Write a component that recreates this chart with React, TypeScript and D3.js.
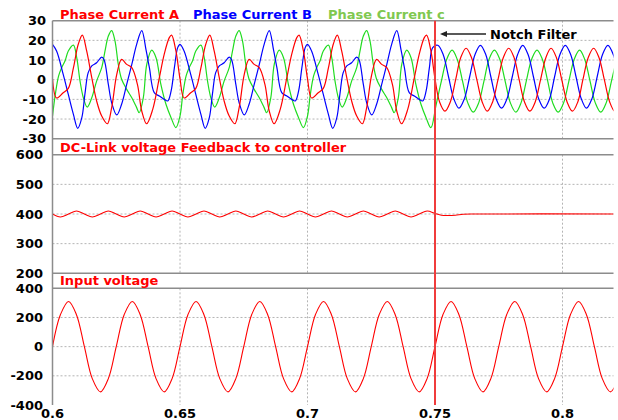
import React from 'react';
import * as d3 from 'd3';

// ---------- DATA ----------
const xTicks = [0.6, 0.65, 0.7, 0.75, 0.8];
const xTickLabels = ['0.6', '0.65', '0.7', '0.75', '0.8'];
const currentTicks = [30, 20, 10, 0, -10, -20, -30];
const dcTicks = [600, 500, 400, 300, 200];
const vinTicks = [400, 200, 0, -200, -400];
const notchTime = 0.75;

const phaseA: [number, number][] = [
  [0.6000, 0.5], [0.6016, -9.3], [0.6042, -6.6], [0.6062, -4.4], [0.6082, 6], [0.6101, 18], [0.6117, 22.7], [0.6134, 14.6], [0.6154, 1], [0.6173, -10.8], [0.6193, -18.5], [0.6215, -22.4], [0.6232, -14.2], [0.6252, 2.7], [0.6271, 10.3], [0.6291, 7.8], [0.6311, 6.1], [0.6333, -2.4], [0.6350, -15.9], [0.6369, -22.4], [0.6393, -15.1], [0.6419, 1], [0.6438, 12.9], [0.6458, 21.4], [0.6467, 22.7], [0.6484, 14.6],
  [0.6500, 0.5], [0.6516, -9.3], [0.6542, -6.6], [0.6562, -4.4], [0.6582, 6], [0.6601, 18], [0.6617, 22.7], [0.6634, 14.6], [0.6654, 1], [0.6673, -10.8], [0.6693, -18.5], [0.6715, -22.4], [0.6732, -14.2], [0.6752, 2.7], [0.6771, 10.3], [0.6791, 7.8], [0.6811, 6.1], [0.6833, -2.4], [0.6850, -15.9], [0.6869, -22.4], [0.6893, -15.1], [0.6919, 1], [0.6938, 12.9], [0.6958, 21.4], [0.6967, 22.7], [0.6984, 14.6],
  [0.7000, 0.5], [0.7016, -9.3], [0.7042, -6.6], [0.7062, -4.4], [0.7082, 6], [0.7101, 18], [0.7117, 22.7], [0.7134, 14.6], [0.7154, 1], [0.7173, -10.8], [0.7193, -18.5], [0.7215, -22.4], [0.7232, -14.2], [0.7252, 2.7], [0.7271, 10.3], [0.7291, 7.8], [0.7311, 6.1], [0.7333, -2.4], [0.7350, -15.9], [0.7369, -22.4], [0.7393, -15.1], [0.7419, 1], [0.7438, 12.9], [0.7458, 21.4], [0.7467, 22.7], [0.7484, 14.6],
  [0.7500, 0.5], [0.7518, -11.3], [0.7539, -16], [0.7560, -11.3], [0.7581, 0], [0.7601, 11.3], [0.7622, 16], [0.7643, 11.3], [0.7664, 0], [0.7685, -11.3], [0.7705, -16], [0.7726, -11.3], [0.7747, 0], [0.7768, 11.3], [0.7789, 16], [0.7810, 11.3], [0.7830, 0], [0.7851, -11.3], [0.7872, -16], [0.7893, -11.3], [0.7914, 0], [0.7935, 11.3], [0.7955, 16], [0.7976, 11.3], [0.7997, 0], [0.8018, -11.3], [0.8039, -16], [0.8060, -11.3], [0.8080, 0], [0.8101, 11.3], [0.8122, 16], [0.8143, 11.3], [0.8164, 0], [0.8185, -11.3], [0.8205, -16], [0.8226, -11.3],
];

const phaseB: [number, number][] = [
  [0.6000, 18], [0.6016, 14.6], [0.6042, 2.7], [0.6062, -7.5], [0.6082, -17.6], [0.6099, -24.7], [0.6115, -19.3], [0.6127, -7.5], [0.6140, 3.6], [0.6154, 7], [0.6173, 8.6], [0.6193, 11.5], [0.6202, 10.3], [0.6219, -2.4], [0.6232, -11.7], [0.6252, -17.9], [0.6271, -12.5], [0.6291, -2.4], [0.6311, 7.8], [0.6330, 18], [0.6350, 25], [0.6367, 15], [0.6380, 6.1], [0.6399, -6.6], [0.6419, -8.3], [0.6438, -10], [0.6452, -10.8], [0.6465, -5.8], [0.6478, 6.1], [0.6491, 16.3],
  [0.6500, 18], [0.6516, 14.6], [0.6542, 2.7], [0.6562, -7.5], [0.6582, -17.6], [0.6599, -24.7], [0.6615, -19.3], [0.6627, -7.5], [0.6640, 3.6], [0.6654, 7], [0.6673, 8.6], [0.6693, 11.5], [0.6702, 10.3], [0.6719, -2.4], [0.6732, -11.7], [0.6752, -17.9], [0.6771, -12.5], [0.6791, -2.4], [0.6811, 7.8], [0.6830, 18], [0.6850, 25], [0.6867, 15], [0.6880, 6.1], [0.6899, -6.6], [0.6919, -8.3], [0.6938, -10], [0.6952, -10.8], [0.6965, -5.8], [0.6978, 6.1], [0.6991, 16.3],
  [0.7000, 18], [0.7016, 14.6], [0.7042, 2.7], [0.7062, -7.5], [0.7082, -17.6], [0.7099, -24.7], [0.7115, -19.3], [0.7127, -7.5], [0.7140, 3.6], [0.7154, 7], [0.7173, 8.6], [0.7193, 11.5], [0.7202, 10.3], [0.7219, -2.4], [0.7232, -11.7], [0.7252, -17.9], [0.7271, -12.5], [0.7291, -2.4], [0.7311, 7.8], [0.7330, 18], [0.7350, 25], [0.7367, 15], [0.7380, 6.1], [0.7399, -6.6], [0.7419, -8.3], [0.7438, -10], [0.7452, -10.8], [0.7465, -5.8], [0.7478, 6.1], [0.7491, 16.3],
  [0.7511, 17.5], [0.7532, 12.8], [0.7553, 1.5], [0.7574, -9.8], [0.7594, -14.5], [0.7615, -9.8], [0.7636, 1.5], [0.7657, 12.8], [0.7678, 17.5], [0.7699, 12.8], [0.7719, 1.5], [0.7740, -9.8], [0.7761, -14.5], [0.7782, -9.8], [0.7803, 1.5], [0.7824, 12.8], [0.7844, 17.5], [0.7865, 12.8], [0.7886, 1.5], [0.7907, -9.8], [0.7928, -14.5], [0.7949, -9.8], [0.7969, 1.5], [0.7990, 12.8], [0.8011, 17.5], [0.8032, 12.8], [0.8053, 1.5], [0.8074, -9.8], [0.8094, -14.5], [0.8115, -9.8], [0.8136, 1.5], [0.8157, 12.8], [0.8178, 17.5], [0.8199, 12.8], [0.8220, 1.5],
];

const phaseC: [number, number][] = [
  [0.6000, -18.5], [0.6011, -7.5], [0.6024, 1.9], [0.6036, 6.1], [0.6049, 9.5], [0.6062, 14.6], [0.6082, 17.6], [0.6095, 11.2], [0.6108, -0.7], [0.6121, -9.2], [0.6136, -13.9], [0.6154, -9.2], [0.6173, -0.7], [0.6193, 6.1], [0.6206, 14.6], [0.6219, 22.2], [0.6232, 25], [0.6245, 19.7], [0.6258, 7.8], [0.6271, 0.2], [0.6291, -4.9], [0.6311, -9.2], [0.6330, -14.2], [0.6340, -16.8], [0.6356, -9.2], [0.6370, 8], [0.6389, 15], [0.6406, 11.2], [0.6425, -2.4], [0.6445, -12.5], [0.6465, -19.3], [0.6484, -24.4],
  [0.6500, -18.5], [0.6511, -7.5], [0.6524, 1.9], [0.6536, 6.1], [0.6549, 9.5], [0.6562, 14.6], [0.6582, 17.6], [0.6595, 11.2], [0.6608, -0.7], [0.6621, -9.2], [0.6636, -13.9], [0.6654, -9.2], [0.6673, -0.7], [0.6693, 6.1], [0.6706, 14.6], [0.6719, 22.2], [0.6732, 25], [0.6745, 19.7], [0.6758, 7.8], [0.6771, 0.2], [0.6791, -4.9], [0.6811, -9.2], [0.6830, -14.2], [0.6840, -16.8], [0.6856, -9.2], [0.6870, 8], [0.6889, 15], [0.6906, 11.2], [0.6925, -2.4], [0.6945, -12.5], [0.6965, -19.3], [0.6984, -24.4],
  [0.7000, -18.5], [0.7011, -7.5], [0.7024, 1.9], [0.7036, 6.1], [0.7049, 9.5], [0.7062, 14.6], [0.7082, 17.6], [0.7095, 11.2], [0.7108, -0.7], [0.7121, -9.2], [0.7136, -13.9], [0.7154, -9.2], [0.7173, -0.7], [0.7193, 6.1], [0.7206, 14.6], [0.7219, 22.2], [0.7232, 25], [0.7245, 19.7], [0.7258, 7.8], [0.7271, 0.2], [0.7291, -4.9], [0.7311, -9.2], [0.7330, -14.2], [0.7340, -16.8], [0.7356, -9.2], [0.7370, 8], [0.7389, 15], [0.7406, 11.2], [0.7425, -2.4], [0.7445, -12.5], [0.7465, -19.3], [0.7484, -24.4],
  [0.7504, -13], [0.7525, -0.75], [0.7546, 10.4], [0.7567, 15], [0.7587, 10.4], [0.7608, -0.75], [0.7629, -11.9], [0.7650, -16.5], [0.7671, -11.9], [0.7692, -0.75], [0.7712, 10.4], [0.7733, 15], [0.7754, 10.4], [0.7775, -0.75], [0.7796, -11.9], [0.7817, -16.5], [0.7837, -11.9], [0.7858, -0.75], [0.7879, 10.4], [0.7900, 15], [0.7921, 10.4], [0.7942, -0.75], [0.7962, -11.9], [0.7983, -16.5], [0.8004, -11.9], [0.8025, -0.75], [0.8046, 10.4], [0.8067, 15], [0.8087, 10.4], [0.8108, -0.75], [0.8129, -11.9], [0.8150, -16.5], [0.8171, -11.9], [0.8192, -0.75], [0.8212, 10.4],
];

const dcLink: [number, number][] = [
  [0.6000, 400], [0.6031, 390], [0.6063, 400], [0.6094, 410], [0.6125, 400], [0.6156, 390], [0.6188, 400], [0.6219, 410],
  [0.6250, 400], [0.6281, 390], [0.6313, 400], [0.6344, 410], [0.6375, 400], [0.6406, 390], [0.6438, 400], [0.6469, 410],
  [0.6500, 400], [0.6531, 390], [0.6563, 400], [0.6594, 410], [0.6625, 400], [0.6656, 390], [0.6688, 400], [0.6719, 410],
  [0.6750, 400], [0.6781, 390], [0.6813, 400], [0.6844, 410], [0.6875, 400], [0.6906, 390], [0.6938, 400], [0.6969, 410],
  [0.7000, 400], [0.7031, 390], [0.7063, 400], [0.7094, 410], [0.7125, 400], [0.7156, 390], [0.7188, 400], [0.7219, 410],
  [0.7250, 400], [0.7281, 390], [0.7313, 400], [0.7344, 410], [0.7375, 400], [0.7406, 390], [0.7438, 400], [0.7469, 410],
  [0.7500, 402], [0.7525, 396], [0.7550, 395], [0.7580, 396], [0.7610, 399], [0.7650, 400], [0.8200, 400],
];

const inputVoltage: [number, number][] = [
  [0.6000, 0], [0.6031, 219], [0.6063, 310], [0.6094, 219], [0.6125, 0], [0.6156, -219], [0.6188, -310], [0.6219, -219],
  [0.6250, 0], [0.6281, 219], [0.6313, 310], [0.6344, 219], [0.6375, 0], [0.6406, -219], [0.6438, -310], [0.6469, -219],
  [0.6500, 0], [0.6531, 219], [0.6563, 310], [0.6594, 219], [0.6625, 0], [0.6656, -219], [0.6688, -310], [0.6719, -219],
  [0.6750, 0], [0.6781, 219], [0.6813, 310], [0.6844, 219], [0.6875, 0], [0.6906, -219], [0.6938, -310], [0.6969, -219],
  [0.7000, 0], [0.7031, 219], [0.7063, 310], [0.7094, 219], [0.7125, 0], [0.7156, -219], [0.7188, -310], [0.7219, -219],
  [0.7250, 0], [0.7281, 219], [0.7313, 310], [0.7344, 219], [0.7375, 0], [0.7406, -219], [0.7438, -310], [0.7469, -219],
  [0.7500, 0], [0.7531, 219], [0.7563, 310], [0.7594, 219], [0.7625, 0], [0.7656, -219], [0.7688, -310], [0.7719, -219],
  [0.7750, 0], [0.7781, 219], [0.7813, 310], [0.7844, 219], [0.7875, 0], [0.7906, -219], [0.7938, -310], [0.7969, -219],
  [0.8000, 0], [0.8031, 219], [0.8063, 310], [0.8094, 219], [0.8125, 0], [0.8156, -219], [0.8188, -310], [0.8219, -219],
];

// ---------- LAYOUT ----------
const W = 618;
const H = 420;
const X0 = 52.5;
const X1 = 613.5;
const FONT = '"DejaVu Sans", Verdana, sans-serif';
const RED = '#ff0000';
const BLUE = '#0000ff';
const GREEN = '#1fdc1f';

const x = d3.scaleLinear().domain([0.6, 0.82]).range([X0, X1]);

type Panel = {
  id: string;
  y: d3.ScaleLinear<number, number>;
  ticks: number[];
  labelEnd: number;
  bottomLine: boolean;
};

const panels: Panel[] = [
  { id: 'p1', y: d3.scaleLinear().domain([-30, 30]).range([138.7, 20.7]), ticks: currentTicks, labelEnd: 46, bottomLine: true },
  { id: 'p2', y: d3.scaleLinear().domain([200, 600]).range([273.3, 154.7]), ticks: dcTicks, labelEnd: 43, bottomLine: true },
  { id: 'p3', y: d3.scaleLinear().domain([-400, 400]).range([405, 288.3]), ticks: vinTicks, labelEnd: 43, bottomLine: false },
];

function makeLine(y: d3.ScaleLinear<number, number>) {
  return d3
    .line<[number, number]>()
    .x((d) => x(d[0]))
    .y((d) => y(d[1]))
    .curve(d3.curveCatmullRom.alpha(0.5));
}

export default function App() {
  const [p1, p2, p3] = panels;
  const l1 = makeLine(p1.y);
  const l2 = makeLine(p2.y);
  const l3 = makeLine(p3.y);
  const xn = x(notchTime);

  return (
    <svg
      width={W}
      height={H}
      viewBox={`0 0 ${W} ${H}`}
      style={{ position: 'absolute', left: 0, top: 0, background: '#fff' }}
      fontFamily={FONT}
    >
      <defs>
        {panels.map((p) => (
          <clipPath id={`clip-${p.id}`} key={p.id}>
            <rect x={X0} y={p.y.range()[1] - 1} width={X1 - X0} height={p.y.range()[0] - p.y.range()[1] + 2} />
          </clipPath>
        ))}
      </defs>

      {/* grids */}
      {panels.map((p) => (
        <g key={`grid-${p.id}`}>
          {p.ticks.slice(1, -1).map((t) => (
            <line key={t} x1={X0} x2={X1} y1={p.y(t)} y2={p.y(t)} stroke="#b4b4b4" strokeWidth={1} strokeDasharray="2,2" />
          ))}
          {xTicks.slice(1).map((t) => (
            <line key={t} x1={x(t)} x2={x(t)} y1={p.y.range()[1]} y2={p.y.range()[0]} stroke="#b4b4b4" strokeWidth={1} strokeDasharray="2,2" />
          ))}
        </g>
      ))}

      {/* data */}
      <g clipPath="url(#clip-p1)">
        <path d={l1(phaseC) || ''} fill="none" stroke={GREEN} strokeWidth={1.2} />
        <path d={l1(phaseB) || ''} fill="none" stroke={BLUE} strokeWidth={1.2} />
        <path d={l1(phaseA) || ''} fill="none" stroke={RED} strokeWidth={1.2} />
      </g>
      <g clipPath="url(#clip-p2)">
        <path d={l2(dcLink) || ''} fill="none" stroke={RED} strokeWidth={1.1} />
      </g>
      <g clipPath="url(#clip-p3)">
        <path d={l3(inputVoltage) || ''} fill="none" stroke={RED} strokeWidth={1.1} />
      </g>

      {/* frame lines */}
      {panels.map((p) => (
        <g key={`frame-${p.id}`}>
          <line x1={X0} x2={X1} y1={p.y.range()[1]} y2={p.y.range()[1]} stroke="#8c8c8c" strokeWidth={1.5} />
          {p.bottomLine && (
            <line x1={X0} x2={X1} y1={p.y.range()[0]} y2={p.y.range()[0]} stroke="#8c8c8c" strokeWidth={1.5} />
          )}
        </g>
      ))}
      <line x1={X0} x2={X0} y1={p1.y.range()[1]} y2={p3.y.range()[0]} stroke="#8c8c8c" strokeWidth={1.5} />

      {/* notch line */}
      <line x1={xn} x2={xn} y1={p1.y.range()[1]} y2={p3.y.range()[0]} stroke="#f03c3c" strokeWidth={2} />

      {/* y tick labels */}
      {panels.map((p) => (
        <g key={`yl-${p.id}`}>
          {p.ticks.map((t) => (
            <text key={t} x={p.labelEnd} y={p.y(t)} textAnchor="end" dominantBaseline="central" fontSize={13} fontWeight="bold" fill="#000">
              {t}
            </text>
          ))}
        </g>
      ))}

      {/* x tick labels */}
      {xTicks.map((t, i) => (
        <text key={t} x={x(t)} y={413} textAnchor="middle" dominantBaseline="central" fontSize={13} fontWeight="bold" fill="#000">
          {xTickLabels[i]}
        </text>
      ))}

      {/* titles */}
      <text x={60} y={14} dominantBaseline="central" fontSize={13} fontWeight="bold" fill={RED}>Phase Current A</text>
      <text x={193} y={14} dominantBaseline="central" fontSize={13} fontWeight="bold" fill={BLUE}>Phase Current B</text>
      <text x={328} y={14} dominantBaseline="central" fontSize={13} fontWeight="bold" fill="#80c850">Phase Current c</text>
      <text x={60} y={147} dominantBaseline="central" fontSize={13} fontWeight="bold" fill={RED}>DC-Link voltage Feedback to controller</text>
      <text x={60} y={280} dominantBaseline="central" fontSize={13} fontWeight="bold" fill={RED}>Input voltage</text>

      {/* annotation */}
      <line x1={446} x2={486} y1={34} y2={34} stroke="#222" strokeWidth={1.3} />
      <path d="M 440 34 L 447 31 L 447 37 Z" fill="#222" />
      <text x={490} y={34} dominantBaseline="central" fontSize={13} fontWeight="bold" fill="#000">Notch Filter</text>
    </svg>
  );
}
